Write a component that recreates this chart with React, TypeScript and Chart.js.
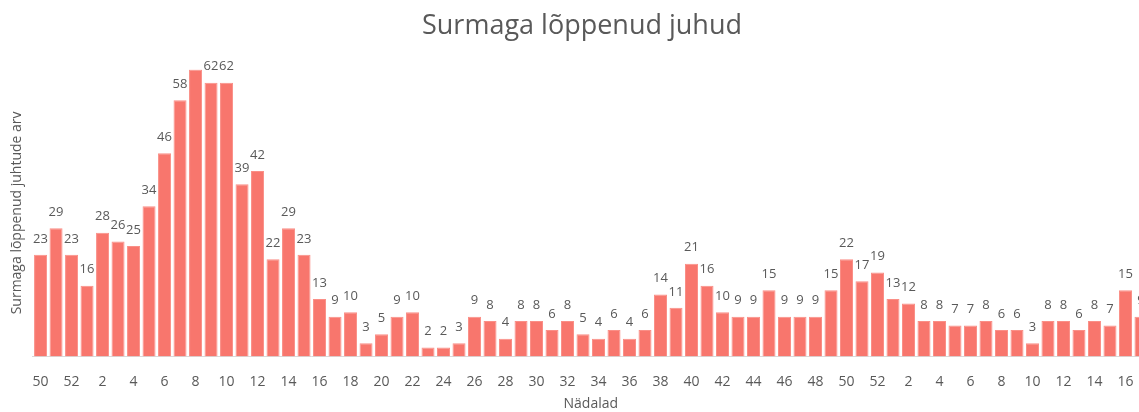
import React, { useEffect, useRef } from "react";
import { Chart, registerables } from "chart.js";

Chart.register(...registerables);

const chartTitle = "Surmaga lõppenud juhud";
const yTitle = "Surmaga lõppenud juhtude arv";
const xTitle = "Nädalad";

const weeks: string[] = [
  "50", "51", "52",
  "1", "2", "3", "4", "5", "6", "7", "8", "9", "10",
  "11", "12", "13", "14", "15", "16", "17", "18", "19", "20",
  "21", "22", "23", "24", "25", "26", "27", "28", "29", "30",
  "31", "32", "33", "34", "35", "36", "37", "38", "39", "40",
  "41", "42", "43", "44", "45", "46", "47", "48", "49", "50",
  "51", "52",
  "1", "2", "3", "4", "5", "6", "7", "8", "9", "10",
  "11", "12", "13", "14", "15", "16", "17",
];

const deaths: number[] = [
  23, 29, 23,
  16, 28, 26, 25, 34, 46, 58, 65, 62, 62,
  39, 42, 22, 29, 23, 13, 9, 10, 3, 5,
  9, 10, 2, 2, 3, 9, 8, 4, 8, 8,
  6, 8, 5, 4, 6, 4, 6, 14, 11, 21,
  16, 10, 9, 9, 15, 9, 9, 9, 15, 22,
  17, 19,
  13, 12, 8, 8, 7, 7, 8, 6, 6, 3,
  8, 8, 6, 8, 7, 15, 9,
];

const FONT = "'Open Sans', 'Noto Sans', sans-serif";

const valueLabels = {
  id: "valueLabels",
  afterDatasetsDraw(chart: any) {
    const ctx = chart.ctx;
    const meta = chart.getDatasetMeta(0);
    const area = chart.chartArea;
    ctx.save();
    ctx.font = `13px ${FONT}`;
    ctx.fillStyle = "#595959";
    ctx.textAlign = "center";
    ctx.textBaseline = "middle";
    meta.data.forEach((bar: any, i: number) => {
      const y = bar.y - 16;
      if (y < area.top - 8) return;
      ctx.fillText(String(deaths[i]), bar.x, y);
    });
    ctx.restore();
  },
};

export default function App() {
  const ref = useRef<HTMLCanvasElement | null>(null);

  useEffect(() => {
    if (!ref.current) return;
    const chart = new Chart(ref.current, {
      type: "bar",
      data: {
        labels: weeks,
        datasets: [
          {
            data: deaths,
            backgroundColor: "#F8766D",
            borderColor: "#FA8F87",
            borderWidth: 1,
            barPercentage: 0.84,
            categoryPercentage: 1,
          },
        ],
      },
      options: {
        responsive: false,
        animation: false,
        devicePixelRatio: 1,
        layout: { padding: { left: 9, right: 3, top: 0, bottom: 0 } },
        plugins: {
          legend: { display: false },
          tooltip: { enabled: false },
          title: {
            display: true,
            text: chartTitle,
            color: "#595959",
            font: { family: FONT, size: 27, weight: "normal" },
            padding: { top: 10, bottom: 27 },
          },
        },
        scales: {
          x: {
            grid: { display: false, drawTicks: false },
            border: { display: true, color: "#D9D9D9", width: 1 },
            ticks: {
              autoSkip: false,
              maxRotation: 0,
              minRotation: 0,
              padding: 17,
              color: "#595959",
              font: { family: FONT, size: 14 },
              callback: (_v: any, idx: number) => (idx % 2 === 0 ? weeks[idx] : ""),
            },
            title: {
              display: true,
              text: xTitle,
              color: "#595959",
              font: { family: FONT, size: 14 },
              padding: { top: -12, bottom: 0 },
            },
          },
          y: {
            min: 0,
            max: 65,
            grid: { display: false },
            border: { display: false },
            ticks: { display: false },
            title: {
              display: true,
              text: yTitle,
              color: "#595959",
              font: { family: FONT, size: 14 },
              padding: { top: 0, bottom: -1 },
            },
          },
        },
      },
      plugins: [valueLabels],
    });
    return () => chart.destroy();
  }, []);

  return (
    <div
      style={{
        position: "absolute",
        left: 0,
        top: 0,
        width: 1139,
        height: 412,
        overflow: "hidden",
        background: "#fff",
      }}
    >
      <canvas ref={ref} width={1158} height={412} style={{ display: "block" }} />
    </div>
  );
}
